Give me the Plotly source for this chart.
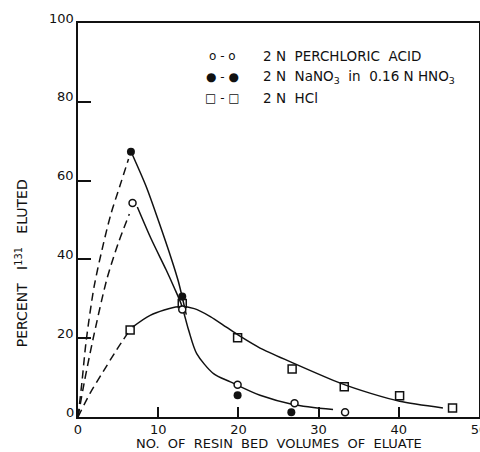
import plotly.graph_objects as go

# ---- measured points ----
perc_x = [6.8, 13.0, 19.9, 27.0, 33.3]
perc_y = [54.3, 27.3, 8.2, 3.5, 1.2]
nano3_x = [6.6, 13.0, 19.9, 26.6]
nano3_y = [67.3, 30.6, 5.5, 1.2]
hcl_x = [6.5, 13.0, 19.9, 26.7, 33.2, 40.1, 46.7]
hcl_y = [22.1, 28.8, 20.1, 12.2, 7.7, 5.4, 2.3]

# ---- hand-drawn curves ----
perc_dash_x = [0, 0.8, 1.9, 3.6, 5.0, 6.4]
perc_dash_y = [0, 9, 20, 35, 44, 51.5]
perc_fit_x = [7.4, 9.1, 11.0, 12.0, 12.9, 13.8, 14.8, 16.9, 19.0, 22.7, 26.8, 31.8]
perc_fit_y = [53.3, 45.3, 37.3, 32.8, 28.5, 22.0, 16.1, 11.0, 8.9, 5.5, 3.2, 1.9]

nano3_dash_x = [0, 0.5, 1.0, 2.0, 3.0, 4.1, 5.2, 6.3]
nano3_dash_y = [0, 9, 19, 33, 42.5, 51.5, 58.5, 65.5]
nano3_fit_x = [6.8, 8.5, 10.0, 11.7, 12.5, 13.1, 13.5]
nano3_fit_y = [66.5, 58.5, 50.0, 39.8, 34.5, 29.5, 26.0]

hcl_dash_x = [0, 1.5, 3.1, 4.8, 6.2]
hcl_dash_y = [0, 6.0, 11.4, 17.0, 21.3]
hcl_fit_x = [6.8, 9.0, 12.5, 14.5, 16.5, 18.5, 20.2, 22.7, 26.5, 32.7, 36.5, 40.1, 45.5]
hcl_fit_y = [22.8, 25.8, 28.0, 27.5, 25.5, 22.8, 20.5, 17.5, 14.0, 8.6, 6.0, 4.0, 2.3]

x_ticks = [0, 10, 20, 30, 40, 50]
y_ticks = [0, 20, 40, 60, 80, 100]

legend_rows = [
    ("o - o", "2 N  PERCHLORIC  ACID"),
    ("\u25cf - \u25cf", "2 N  NaNO<sub>3</sub>  in  0.16 N HNO<sub>3</sub>"),
    ("\u25a1 - \u25a1", "2 N  HCl"),
]

FONT = "DejaVu Sans"
BLACK = "#111111"
LW = 1.5
DASH = "8px,5px"

fig = go.Figure()

def line(x, y, dash=None):
    fig.add_trace(go.Scatter(x=x, y=y, mode="lines", line_shape="spline",
                             line=dict(color=BLACK, width=LW, dash=dash or "solid",
                                       smoothing=0.8),
                             hoverinfo="skip", showlegend=False))

line(perc_dash_x, perc_dash_y, DASH)
line(nano3_dash_x, nano3_dash_y, DASH)
line(hcl_dash_x, hcl_dash_y, DASH)
line(perc_fit_x, perc_fit_y)
line(nano3_fit_x, nano3_fit_y)
line(hcl_fit_x, hcl_fit_y)

fig.add_trace(go.Scatter(x=hcl_x, y=hcl_y, mode="markers", showlegend=False,
                         marker=dict(symbol="square-open", size=8, color=BLACK,
                                     line=dict(width=1.5, color=BLACK))))
fig.add_trace(go.Scatter(x=perc_x, y=perc_y, mode="markers", showlegend=False,
                         marker=dict(symbol="circle", size=7, color="white",
                                     line=dict(width=1.5, color=BLACK))))
fig.add_trace(go.Scatter(x=nano3_x, y=nano3_y, mode="markers", showlegend=False,
                         marker=dict(symbol="circle", size=8, color=BLACK,
                                     line=dict(width=0, color=BLACK))))

# legend as text
row_y = [0.917, 0.862, 0.810]
for (sym, txt), yy in zip(legend_rows, row_y):
    fig.add_annotation(x=0.36, y=yy, xref="paper", yref="paper", text=sym,
                       showarrow=False, xanchor="center", yanchor="middle",
                       font=dict(family=FONT, size=12, color=BLACK))
    fig.add_annotation(x=0.456, y=yy, xref="paper", yref="paper", text=txt,
                       showarrow=False, xanchor="left", yanchor="middle",
                       font=dict(family=FONT, size=13.5, color=BLACK))

# y tick labels, sitting just above their ticks
for v in y_ticks:
    fig.add_annotation(x=0, y=v, xref="paper", yref="y", text=str(v),
                       showarrow=False, xanchor="right", yanchor="middle",
                       xshift=-2, yshift=5,
                       font=dict(family=FONT, size=13, color=BLACK))

# axis titles
fig.add_annotation(x=0.5, y=-0.066, xref="paper", yref="paper",
                   text="NO.  OF  RESIN  BED  VOLUMES  OF  ELUATE",
                   showarrow=False, xanchor="center", yanchor="middle",
                   font=dict(family=FONT, size=13, color=BLACK))
fig.add_annotation(x=-0.14, y=0.39, xref="paper", yref="paper",
                   text="PERCENT   I<sup>131</sup>   ELUTED", textangle=-90,
                   showarrow=False, xanchor="center", yanchor="middle",
                   font=dict(family=FONT, size=14, color=BLACK))

fig.update_xaxes(range=[0, 50], tickvals=x_ticks, ticktext=[str(v) for v in x_ticks],
                 ticks="inside", ticklen=10, tickwidth=1.5, tickcolor=BLACK,
                 ticklabeloverflow="allow", automargin=False,
                 showline=True, mirror=True, linewidth=1.5, linecolor=BLACK,
                 showgrid=False, zeroline=False,
                 tickfont=dict(family=FONT, size=13, color=BLACK))
fig.update_yaxes(range=[0, 100], tickvals=y_ticks, showticklabels=False,
                 ticks="inside", ticklen=13, tickwidth=1.5, tickcolor=BLACK,
                 automargin=False,
                 showline=True, mirror=True, linewidth=1.5, linecolor=BLACK,
                 showgrid=False, zeroline=False)

fig.update_layout(width=480, height=452,
                  margin=dict(l=78, r=1, t=23, b=35),
                  paper_bgcolor="white", plot_bgcolor="white",
                  showlegend=False)

fig.write_html("out.html")
